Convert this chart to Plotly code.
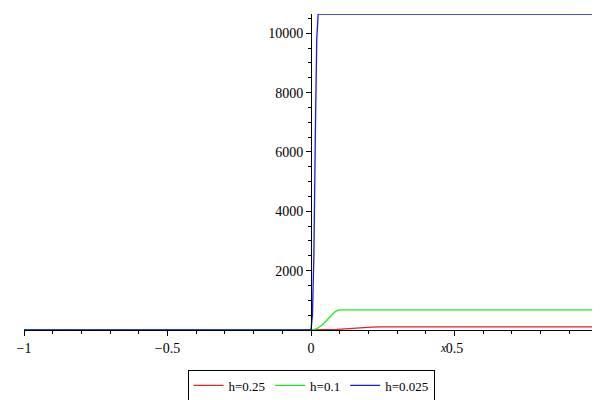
import plotly.graph_objects as go

# values
x_red = [-1, 0, 0.03, 0.06, 0.09, 0.12, 0.15, 0.18, 0.21, 0.25, 1]
y_red = [0, 0, 2, 8, 20, 38, 60, 82, 98, 107, 107]
x_green = [-1, 0, 0.01, 0.02, 0.03, 0.04, 0.05, 0.06, 0.07, 0.08, 0.09, 0.1, 1]
y_green = [0, 0, 12, 45, 100, 180, 280, 390, 490, 580, 650, 680, 680]
x_blue = [-1, 0, 0.005, 0.01, 0.015, 0.02, 0.025, 1]
y_blue = [0, 0, 500, 2500, 6500, 9800, 10650, 10650]

fig = go.Figure()
fig.add_trace(go.Scatter(x=x_red, y=y_red, mode="lines", name="h=0.25",
                         line=dict(color="#e8211a", width=1.3)))
fig.add_trace(go.Scatter(x=x_green, y=y_green, mode="lines", name="h=0.1",
                         line=dict(color="#1aef1a", width=1.3)))
fig.add_trace(go.Scatter(x=x_blue, y=y_blue, mode="lines", name="h=0.025",
                         line=dict(color="#1a1ae8", width=1.3)))

fig.update_layout(
    width=600, height=400,
    margin=dict(l=16, r=10, t=6, b=75),
    plot_bgcolor="white", paper_bgcolor="white",
    font=dict(family="Liberation Serif", size=14, color="black"),
    showlegend=True,
    legend=dict(orientation="h", x=0.5, xanchor="center", y=-0.125, yanchor="top",
                bordercolor="black", borderwidth=1, font=dict(size=13),
                tracegroupgap=0, itemwidth=30),
    xaxis=dict(range=[-1, 1], domain=[0, 1], automargin=False, showgrid=False,
               zeroline=False, showline=True,
               linecolor="black", ticks="outside", tickcolor="black", ticklen=5,
               tickvals=[-1, -0.5, 0, 0.5, 1], ticktext=["−1", "−0.5", "0", "0.5", "1"],
               minor=dict(ticks="outside", ticklen=3, dtick=0.1, tickcolor="black")),
    yaxis=dict(range=[0, 10650], automargin=False, showgrid=False, zeroline=False,
               showline=True, linecolor="black", anchor="free", position=0.5,
               ticks="outside", tickcolor="black", ticklen=5,
               tickvals=[2000, 4000, 6000, 8000, 10000],
               ticktext=["2000", "4000", "6000", "8000", "10000"],
               minor=dict(ticks="outside", ticklen=3, dtick=500, tickcolor="black")),
)
fig.add_annotation(x=0.74, y=-0.085, xref="paper", yref="paper", text="<i>x</i>",
                   showarrow=False, font=dict(size=12))

fig.write_html("out.html")
